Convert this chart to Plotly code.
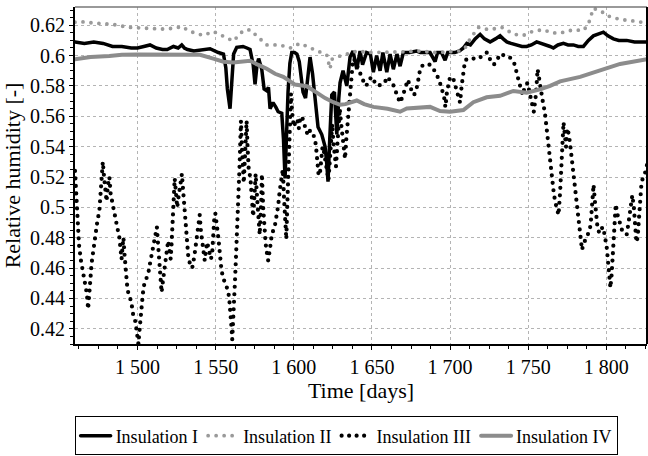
import plotly.graph_objects as go

# ---------------- data ----------------
t_ins1 = [1460,1466,1472,1478,1484,1490,1496,1500,1504,1508,1512,1516,1519,1523,1526,1528.3,1530,1532,1536,1540,
          1546.4,1551.7,1555,1556.5,1557.5,1559.2,1560.5,1561.5,1563.5,1567.5,1570,1572,1574,1575.2,1576.5,1577.5,
          1579.5,1581,1582.5,1583.8,1584.8,1586.7,1588.5,1590,1592.3,1593.4,1594.4,1595.2,1596.3,1597.5,1598.7,
          1600.5,1602,1603.5,1605,1605.9,1607.5,1609,1610.4,1612,1613.6,1615.5,1617.9,1620,1621,1621.9,1623,1624.3,
          1626,1627.5,1628.8,1629.6,1631.5,1633.9,1636,1637.9,1640.3,1642.4,1644,1646.6,1649,1650.9,1653,1655.2,
          1657,1659.5,1661.6,1663.7,1666,1668,1670.1,1674,1678.6,1681,1685,1687.2,1690.4,1692,1694.5,1696.8,1698.5,
          1703,1706,1708.5,1710.7,1713,1716,1719.2,1722,1725.6,1729,1732,1734,1736.3,1739,1742.7,1746,1749,1752,
          1755.4,1758.5,1761.8,1764,1766.1,1769,1772.5,1775.5,1778.9,1782,1785.3,1788.5,1791.7,1795,1798.1,1801,
          1804.5,1808,1813,1818,1822,1826]
rh_ins1 = [0.609,0.608,0.609,0.608,0.606,0.606,0.605,0.605,0.606,0.607,0.605,0.604,0.604,0.606,0.605,0.607,0.605,
           0.604,0.603,0.6035,0.6045,0.602,0.601,0.592,0.578,0.565,0.588,0.601,0.6054,0.606,0.605,0.604,0.594,0.581,
           0.594,0.598,0.591,0.578,0.577,0.579,0.565,0.569,0.566,0.563,0.562,0.545,0.519,0.548,0.576,0.595,0.602,
           0.602,0.601,0.596,0.582,0.576,0.572,0.586,0.599,0.588,0.574,0.553,0.548,0.540,0.530,0.517,0.545,0.574,
           0.576,0.548,0.572,0.582,0.590,0.580,0.599,0.603,0.591,0.603,0.594,0.602,0.601,0.589,0.600,0.590,0.602,
           0.589,0.601,0.591,0.601,0.593,0.602,0.602,0.603,0.602,0.602,0.602,0.596,0.602,0.602,0.597,0.602,0.602,
           0.603,0.605,0.608,0.607,0.611,0.614,0.611,0.609,0.611,0.613,0.611,0.609,0.608,0.607,0.606,0.606,0.607,
           0.609,0.608,0.607,0.606,0.605,0.607,0.608,0.607,0.607,0.606,0.606,0.610,0.613,0.614,0.6154,0.613,0.611,
           0.610,0.610,0.609,0.609,0.609]

t_ins2 = [1460,1465,1473,1483.6,1494,1505,1515.7,1524,1528.3,1533.6,1542.1,1548.5,1552.8,1561.3,1567.7,1572,1579.5,
          1582.7,1591.2,1597.6,1604,1608.3,1616.8,1621.1,1623.2,1624.3,1629.6,1633.9,1640.3,1650,1660,1670,1680.8,
          1690,1700,1706,1709.6,1712.8,1718.1,1725,1733,1738.4,1741,1746.9,1753,1759.7,1765,1770.4,1778.9,1785.3,
          1788.5,1791.7,1797,1800.2,1808.8,1817.3,1826]
rh_ins2 = [0.622,0.6222,0.6213,0.6207,0.6186,0.618,0.6175,0.618,0.6192,0.6159,0.6133,0.6159,0.6138,0.6096,0.6165,
           0.617,0.610,0.607,0.607,0.605,0.608,0.606,0.6018,0.6004,0.5913,0.5976,0.5997,0.6008,0.6029,0.602,0.602,
           0.6025,0.603,0.602,0.6025,0.603,0.605,0.611,0.6186,0.617,0.6186,0.615,0.614,0.6133,0.616,0.6171,0.615,
           0.6148,0.617,0.6165,0.6207,0.6312,0.629,0.6264,0.6238,0.6228,0.6215]

t_ins3 = [1460,1460.8,1461.6,1462.6,1463.8,1465.0,1466.4,1467.6,1468.4,1469.2,1469.8,1470.6,1471.6,1472.8,1474.2,
          1475.6,1476.4,1477.2,1477.8,1478.6,1479.4,1480.2,1481.0,1482.0,1482.8,1483.8,1485.0,1486.2,1487.4,1488.4,
          1489.2,1489.8,1490.4,1491.0,1491.6,1492.2,1492.8,1493.4,1494.2,1495.0,1496.0,1496.8,1497.6,1498.6,1499.4,
          1500.2,1500.6,1501.2,1501.8,1502.6,1503.4,1504.4,1505.6,1506.8,1508.0,1509.2,1510.2,1511.2,1512.4,1513.0,
          1513.6,1514.0,1514.6,1515.4,1516.2,1517.0,1517.8,1518.8,1519.6,1520.4,1521.2,1521.8,1522.2,1522.6,1523.0,
          1523.4,1523.8,1524.4,1525.4,1526.4,1527.4,1528.4,1529.2,1529.8,1530.4,1531.0,1531.8,1532.6,1533.6,1535.0,
          1536.4,1537.6,1538.4,1539.2,1539.8,1540.6,1541.4,1542.2,1543.0,1543.8,1544.6,1545.4,1546.2,1547.0,1547.8,
          1548.4,1549.2,1549.8,1550.6,1551.4,1552.2,1552.8,1553.6,1554.6,1556.0,1557.6,1558.6,1559.2,1559.8,1560.2,
          1560.6,1561.2,1561.8,1562.4,1563.0,1563.6,1564.2,1564.8,1565.4,1565.8,1566.2,1566.8,1567.4,1568.0,1568.6,
          1569.2,1569.8,1570.4,1571.2,1572.2,1573.2,1574.0,1574.8,1575.6,1576.6,1577.4,1578.2,1579.0,1579.6,1580.4,
          1581.2,1582.0,1582.8,1583.6,1584.8,1586.0,1587.6,1589.0,1590.0,1591.0,1592.0,1593.0,1593.8,1594.6,1595.2,
          1595.8,1596.4,1597.0,1597.6,1598.2,1599.0,1600.0,1601.0,1602.2,1603.2,1604.0,1605.2,1606.4,1607.4,1608.4,
          1609.8,1611.0,1612.4,1613.6,1614.4,1615.2,1615.8,1616.6,1617.4,1618.4,1619.4,1620.4,1621.4,1622.2,1623.0,
          1623.8,1624.6,1625.4,1626.2,1627.0,1627.8,1628.6,1629.4,1630.2,1631.0,1631.8,1632.8,1633.6,1634.4,1635.2,
          1636.0,1636.8,1637.6,1638.4,1639.4,1640.6,1642.0,1643.4,1645.0,1646.4,1648.0,1650.0,1652.0,1654.0,1656.0,
          1658.0,1660.0,1662.0,1664.0,1666.0,1668.0,1669.6,1671.2,1673.0,1675.0,1677.0,1679.0,1681.0,1683.0,1685.0,
          1687.0,1689.0,1691.0,1693.0,1694.6,1696.0,1697.0,1698.0,1700.0,1702.0,1703.4,1705.0,1706.4,1707.4,1708.6,
          1709.6,1712.0,1715.0,1718.0,1721.0,1723.6,1725.8,1728.0,1730.0,1732.0,1735.0,1738.0,1740.0,1741.4,1743.0,
          1744.6,1746.4,1748.0,1749.6,1751.2,1752.4,1753.6,1755.0,1756.0,1756.8,1757.6,1758.6,1759.6,1760.6,1761.8,
          1762.8,1763.8,1764.6,1765.4,1766.4,1767.4,1768.4,1769.4,1770.4,1771.2,1771.8,1772.6,1773.4,1774.2,1775.0,
          1776.0,1777.0,1778.0,1779.2,1780.2,1781.2,1782.0,1782.8,1783.6,1784.4,1785.4,1786.6,1788.0,1789.4,1790.2,
          1791.0,1791.8,1792.6,1793.4,1794.4,1795.6,1796.8,1798.0,1799.2,1800.2,1801.0,1801.6,1802.2,1802.6,1803.4,
          1804.2,1804.8,1805.4,1806.0,1807.2,1808.4,1810.0,1811.6,1813.0,1814.2,1815.4,1816.6,1817.6,1818.4,1819.2,
          1820.0,1820.8,1821.6,1822.4,1823.4,1824.6,1826.0]
rh_ins3 = [0.524,0.505,0.487,0.475,0.465,0.457,0.452,0.443,0.433,0.441,0.452,0.463,0.472,0.482,0.490,
           0.498,0.507,0.518,0.530,0.520,0.512,0.504,0.514,0.520,0.509,0.503,0.497,0.492,0.485,0.480,
           0.473,0.466,0.474,0.480,0.470,0.461,0.454,0.448,0.443,0.440,0.438,0.432,0.427,0.425,0.420,
           0.413,0.410,0.418,0.426,0.434,0.443,0.450,0.454,0.456,0.463,0.470,0.478,0.483,0.487,0.478,
           0.468,0.460,0.452,0.444,0.451,0.458,0.466,0.472,0.478,0.472,0.466,0.476,0.486,0.496,0.505,
           0.513,0.519,0.512,0.500,0.508,0.516,0.522,0.511,0.502,0.492,0.481,0.471,0.466,0.463,0.460,
           0.468,0.477,0.483,0.491,0.495,0.484,0.476,0.471,0.465,0.472,0.477,0.473,0.470,0.466,0.470,
           0.483,0.494,0.496,0.491,0.483,0.475,0.465,0.460,0.454,0.451,0.446,0.441,0.435,0.428,0.420,
           0.413,0.423,0.435,0.452,0.467,0.480,0.497,0.512,0.530,0.545,0.557,0.540,0.522,0.516,0.530,
           0.545,0.557,0.540,0.524,0.520,0.505,0.494,0.507,0.522,0.505,0.488,0.482,0.500,0.522,0.500,
           0.482,0.476,0.470,0.465,0.473,0.483,0.486,0.494,0.501,0.511,0.520,0.525,0.505,0.490,0.479,
           0.500,0.525,0.550,0.566,0.575,0.562,0.553,0.556,0.558,0.552,0.558,0.560,0.555,0.553,0.549,
           0.552,0.548,0.548,0.545,0.538,0.531,0.522,0.521,0.530,0.540,0.536,0.528,0.519,0.518,0.530,
           0.545,0.555,0.542,0.530,0.527,0.540,0.557,0.565,0.556,0.548,0.540,0.532,0.545,0.557,0.565,
           0.576,0.584,0.594,0.598,0.596,0.593,0.589,0.586,0.582,0.580,0.584,0.586,0.582,0.580,0.581,
           0.582,0.586,0.583,0.580,0.574,0.569,0.573,0.578,0.584,0.578,0.574,0.580,0.592,0.594,0.594,
           0.594,0.592,0.588,0.584,0.578,0.574,0.566,0.576,0.586,0.585,0.580,0.574,0.569,0.580,0.590,
           0.597,0.598,0.598,0.598,0.600,0.602,0.597,0.594,0.597,0.601,0.600,0.599,0.597,0.594,0.587,
           0.580,0.574,0.580,0.582,0.574,0.568,0.563,0.575,0.591,0.586,0.580,0.574,0.568,0.563,0.552,
           0.542,0.532,0.521,0.514,0.509,0.503,0.498,0.495,0.510,0.530,0.545,0.556,0.548,0.540,0.552,
           0.548,0.540,0.530,0.521,0.510,0.502,0.494,0.484,0.477,0.472,0.476,0.479,0.482,0.485,0.492,
           0.503,0.515,0.505,0.494,0.486,0.483,0.486,0.487,0.480,0.474,0.465,0.458,0.452,0.447,0.456,
           0.470,0.483,0.494,0.502,0.495,0.490,0.485,0.483,0.482,0.490,0.498,0.508,0.500,0.487,0.477,
           0.480,0.492,0.503,0.515,0.520,0.522,0.528]

t_ins4 = [1460,1470,1482,1490,1499.5,1520,1535.7,1540,1548.5,1555,1561.3,1572,1577,1582.7,1588,1593.3,1600.8,
          1608.3,1614.7,1620,1625.3,1629.6,1633,1638.1,1640.3,1645,1650.9,1660,1668,1672.3,1680.8,1687.2,1693.6,
          1700,1708.5,1714.9,1723.4,1732,1740.5,1749,1757.6,1764,1770.4,1783.2,1796,1808.8,1826]
rh_ins4 = [0.5976,0.5990,0.5997,0.6005,0.6007,0.6007,0.6007,0.6005,0.598,0.596,0.5955,0.5966,0.594,0.5913,0.588,
           0.586,0.5809,0.5798,0.5756,0.572,0.5693,0.5676,0.568,0.5693,0.5704,0.568,0.5662,0.565,0.563,0.5651,
           0.5655,0.5662,0.5635,0.563,0.5641,0.5693,0.5725,0.5735,0.5767,0.5756,0.5777,0.580,0.583,0.586,0.5903,
           0.5945,0.5976]

x_tickvals = [1500, 1550, 1600, 1650, 1700, 1750, 1800]
x_ticktext = ["1 500", "1 550", "1 600", "1 650", "1 700", "1 750", "1 800"]
y_tickvals = [0.42, 0.44, 0.46, 0.48, 0.50, 0.52, 0.54, 0.56, 0.58, 0.60, 0.62]
y_ticktext = ["0.42", "0.44", "0.46", "0.48", "0.5", "0.52", "0.54", "0.56", "0.58", "0.6", "0.62"]

FONT = "Liberation Serif"

fig = go.Figure()
fig.add_trace(go.Scatter(x=t_ins1, y=rh_ins1, mode="lines", name="Insulation I",
                         line=dict(color="black", width=3.5)))
fig.add_trace(go.Scatter(x=t_ins2, y=rh_ins2, mode="lines", name="Insulation II",
                         line=dict(color="#9a9a9a", width=3.8, dash="0px,8px")))
fig.add_trace(go.Scatter(x=t_ins3, y=rh_ins3, mode="lines", name="Insulation III",
                         line=dict(color="black", width=4.2, dash="0px,7.5px")))
fig.add_trace(go.Scatter(x=t_ins4, y=rh_ins4, mode="lines", name="Insulation IV",
                         line=dict(color="#8c8c8c", width=4)))

fig.update_layout(
    width=648, height=456,
    margin=dict(l=75, r=1, t=7, b=96),
    paper_bgcolor="white", plot_bgcolor="white",
    font=dict(family=FONT, size=20, color="black"),
    showlegend=True,
    legend=dict(orientation="h", x=0.474, xanchor="center", y=-0.215, yanchor="top",
                bordercolor="black", borderwidth=1, bgcolor="white",
                font=dict(family=FONT, size=18, color="black"),
                itemwidth=30, tracegroupgap=0),
)
fig.update_xaxes(
    range=[1460, 1826], tickmode="array", tickvals=x_tickvals, ticktext=x_ticktext,
    title_text="Time [days]", title_font=dict(family=FONT, size=22, color="black"), title_standoff=3,
    minor=dict(dtick=12.5, tick0=1500, ticks="outside", ticklen=3, tickcolor="black", showgrid=False),
    tickfont=dict(family=FONT, size=20, color="black"),
)
fig.update_yaxes(
    range=[0.41, 0.632], tickmode="array", tickvals=y_tickvals, ticktext=y_ticktext,
    title_text="Relative humidity [-]", title_font=dict(family=FONT, size=22, color="black"), title_standoff=6,
    minor=dict(dtick=0.005, tick0=0.41, ticks="outside", ticklen=3, tickcolor="black", showgrid=False),
    tickfont=dict(family=FONT, size=20, color="black"),
)
for upd in (fig.update_xaxes, fig.update_yaxes):
    upd(showline=True, linecolor="black", linewidth=2, mirror=False,
        showgrid=True, gridcolor="#b4b4b4", griddash="dot", gridwidth=1,
        ticks="outside", ticklen=4, tickcolor="black", tickwidth=1, zeroline=False)
fig.add_shape(type="line", xref="paper", yref="paper", x0=0, x1=1, y0=1, y1=1,
              line=dict(color="#777777", width=1.5))
fig.add_shape(type="line", xref="paper", yref="paper", x0=1, x1=1, y0=0, y1=1,
              line=dict(color="black", width=2))

# round line caps so zero-length dashes render as round dots; keep the serif family on all text
post = """
(function(){
  function fix(){
    document.querySelectorAll('path.js-line').forEach(function(p){
      p.style.strokeLinecap = 'round';
    });
    document.querySelectorAll('svg text').forEach(function(t){
      t.style.fontFamily = "'Liberation Serif', 'Times New Roman', Tinos, serif";
    });
  }
  fix();
  var gd = document.getElementById('{plot_id}');
  if (gd && gd.on) { gd.on('plotly_afterplot', fix); }
})();
"""

fig.write_html("out.html", post_script=post)
